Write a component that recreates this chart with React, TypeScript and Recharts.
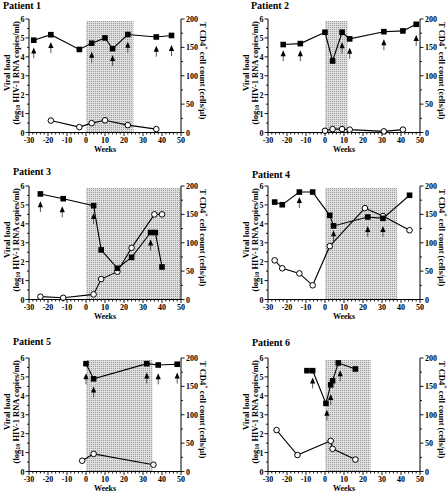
import React from "react";
import { ComposedChart, Line, Scatter, XAxis, YAxis, ReferenceArea, Label } from "recharts";

type Pt = [number, number];

// viral load (log10 copies/ml), CD4 (cells/µl), arrow tips (viral-load units), shaded weeks
const p1Viral: Pt[] = [[-27.5, 4.88], [-18.5, 5.17], [-3.5, 4.39], [3, 4.72], [10, 5.0], [14, 4.43], [22, 5.18], [37, 5.05], [45, 5.13]];
const p1Cd4: Pt[] = [[-18.5, 21], [-3.5, 9.5], [3, 16.5], [10, 21.5], [22, 13], [37, 6]];
const p1Arrows: Pt[] = [[-27.5, 4.5], [-18.5, 4.78], [3, 4.27], [14, 4.1], [22, 4.8], [37, 4.59], [45, 4.62]];
const p1Shade = 25;

const p2Viral: Pt[] = [[-22, 4.65], [-13, 4.7], [0, 5.3], [4, 3.78], [9, 5.3], [13, 4.95], [31, 5.33], [41, 5.37], [48, 5.72]];
const p2Cd4: Pt[] = [[0, 3], [4, 6], [9, 6], [13, 5], [31, 2], [41, 5]];
const p2Arrows: Pt[] = [[-22, 4.35], [-13, 4.35], [9, 4.77], [13, 4.48], [31, 4.93], [48, 5.16]];
const p2Shade = 12;

const p3Viral: Pt[] = [[-24, 5.58], [-12, 5.33], [4, 4.96], [8, 2.62], [16.5, 1.65], [24, 2.23], [34, 3.54], [36.5, 3.54], [40, 1.72]];
const p3Cd4: Pt[] = [[-24, 5], [-12, 3], [4, 9], [8, 36], [16.5, 49], [24, 91], [36, 150], [40, 150]];
const p3Arrows: Pt[] = [[-24, 5.2], [-12.5, 4.93], [4, 4.57], [34, 3.17]];
const p3Shade = 50;

const p4Viral: Pt[] = [[-26.5, 5.15], [-22.5, 5.01], [-13.5, 5.68], [-6.5, 5.68], [2.5, 4.45], [4.5, 3.89], [22.5, 4.36], [30.5, 4.29], [44.5, 5.51]];
const p4Cd4: Pt[] = [[-26.5, 69], [-22.5, 55], [-13.5, 46], [-6.5, 25], [2.5, 94], [21, 161], [30.5, 147], [44.5, 122]];
const p4Arrows: Pt[] = [[-13.5, 5.42], [4.5, 3.66], [22.5, 3.89], [30.5, 3.89]];
const p4Shade = 38;

const p5Viral: Pt[] = [[0, 5.7], [4, 4.9], [32, 5.7], [38, 5.63], [48, 5.67]];
const p5Cd4: Pt[] = [[-2, 19], [4, 31], [35.5, 12]];
const p5Arrows: Pt[] = [[0, 5.19], [4, 4.5], [32, 5.23], [38, 5.19], [48, 5.23]];
const p5Shade = 35;

const p6Viral: Pt[] = [[-9.5, 5.33], [-6.5, 5.33], [0.5, 3.6], [3, 4.58], [4, 4.8], [7, 5.74], [16, 5.42]];
const p6Cd4: Pt[] = [[-25.5, 73], [-14.5, 29], [3, 54], [4, 40], [16, 21]];
const p6Arrows: Pt[] = [[-6.5, 4.97], [1, 3.27], [3, 4.1], [8, 5.35]];
const p6Shade = 24;

const weekTicks = [-30, -20, -10, 0, 10, 20, 30, 40, 50];
const viralTicks = [0, 1, 2, 3, 4, 5, 6];
const cd4Ticks = [0, 50, 100, 150, 200];

// minor ticks
const xTicks = Array.from({ length: 41 }, (_, i) => -30 + i * 2);
const leftTicks = Array.from({ length: 13 }, (_, i) => i * 0.5);
const rightTicks = Array.from({ length: 9 }, (_, i) => i * 25);

const FONT = "'Liberation Serif', 'Times New Roman', serif";
const PW = 152;
const PH = 113.5;
const L = 32;
const R = 28;
const T = 22;
const B = 24;

const panels = [
    { title: "Patient 1", viral: p1Viral, cd4: p1Cd4, arrows: p1Arrows, shade: p1Shade, left: 29, top: 19, tdx: -26, tdy: -10 },
    { title: "Patient 2", viral: p2Viral, cd4: p2Cd4, arrows: p2Arrows, shade: p2Shade, left: 268, top: 19, tdx: -17, tdy: -10 },
    { title: "Patient 3", viral: p3Viral, cd4: p3Cd4, arrows: p3Arrows, shade: p3Shade, left: 29, top: 186, tdx: -16, tdy: -11 },
    { title: "Patient 4", viral: p4Viral, cd4: p4Cd4, arrows: p4Arrows, shade: p4Shade, left: 268, top: 186, tdx: -16, tdy: -8 },
    { title: "Patient 5", viral: p5Viral, cd4: p5Cd4, arrows: p5Arrows, shade: p5Shade, left: 29, top: 357.5, tdx: -16, tdy: -13.5 },
    { title: "Patient 6", viral: p6Viral, cd4: p6Cd4, arrows: p6Arrows, shade: p6Shade, left: 268, top: 357.5, tdx: -16, tdy: -12.5 },
];

const rows = (pts: Pt[]) => pts.map(([x, y]) => ({ x, y }));

const txt = { fontFamily: FONT, fontWeight: "bold" as const, fill: "#000" };

const XTick = (props: any) => {
    const { x, y, payload } = props;
    const major = weekTicks.includes(payload.value);
    return (
        <g>
            <line x1={x} x2={x} y1={y} y2={y + (major ? 3.5 : 2)} stroke="#000" strokeWidth={0.9} />
            {major && (
                <text x={x} y={y + 10} textAnchor="middle" fontSize={8} {...txt}>
                    {payload.value}
                </text>
            )}
        </g>
    );
};

const LeftTick = (props: any) => {
    const { x, y, payload } = props;
    const major = viralTicks.includes(payload.value);
    return (
        <g>
            <line x1={x} x2={x - (major ? 3.5 : 2)} y1={y} y2={y} stroke="#000" strokeWidth={0.9} />
            {major && (
                <text x={x - 4.5} y={y + 3} textAnchor="end" fontSize={8} {...txt}>
                    {payload.value}
                </text>
            )}
        </g>
    );
};

const RightTick = (props: any) => {
    const { x, y, payload } = props;
    const major = cd4Ticks.includes(payload.value);
    return (
        <g>
            <line x1={x} x2={x + (major ? 3.5 : 2)} y1={y} y2={y} stroke="#000" strokeWidth={0.9} />
            {major && (
                <text x={x + 5} y={y + 3} textAnchor="start" fontSize={8} {...txt}>
                    {payload.value}
                </text>
            )}
        </g>
    );
};

const Square = (props: any) => {
    const { cx, cy, index } = props;
    if (cx == null || cy == null) return <g key={index} />;
    return <rect key={index} x={cx - 2.8} y={cy - 2.8} width={5.6} height={5.6} fill="#000" />;
};

const Arrow = (props: any) => {
    const { cx, cy } = props;
    return (
        <g>
            <line x1={cx} x2={cx} y1={cy + 5} y2={cy + 11} stroke="#444" strokeWidth={0.9} />
            <polygon points={`${cx},${cy} ${cx - 2.6},${cy + 6} ${cx + 2.6},${cy + 6}`} fill="#000" />
        </g>
    );
};

const axisLine = { stroke: "#000", strokeWidth: 1 };

function Panel({ p, i }: { p: (typeof panels)[number]; i: number }) {
    const cy = T + PH / 2;
    const id = `dots-${i}`;
    return (
        <div style={{ position: "absolute", left: p.left - L, top: p.top - T }}>
            <ComposedChart width={L + PW + R} height={T + PH + B} margin={{ top: T, right: 0, bottom: 0, left: 0 }}>
                <defs>
                    <pattern id={id} width={2} height={2} patternUnits="userSpaceOnUse">
                        <rect width={2} height={2} fill="#dedede" />
                        <rect width={1} height={1} fill="#9c9c9c" />
                    </pattern>
                </defs>
                <XAxis
                    type="number"
                    dataKey="x"
                    domain={[-30, 50]}
                    ticks={xTicks}
                    interval={0}
                    tickSize={0}
                    tickMargin={0}
                    tick={XTick}
                    height={B}
                    allowDataOverflow
                    axisLine={axisLine}
                >
                    <Label
                        content={() => (
                            <text x={L + PW / 2} y={T + PH + 19.5} textAnchor="middle" fontSize={8} {...txt}>
                                Weeks
                            </text>
                        )}
                    />
                </XAxis>
                <YAxis
                    yAxisId="left"
                    orientation="left"
                    domain={[0, 6]}
                    ticks={leftTicks}
                    interval={0}
                    tickSize={0}
                    tickMargin={0}
                    tick={LeftTick}
                    width={L}
                    axisLine={axisLine}
                >
                    <Label
                        content={() => (
                            <g>
                                <text x={L + p.tdx} y={T + p.tdy} fontSize={10} {...txt}>
                                    {p.title}
                                </text>
                                <text
                                    transform={`translate(${L - 22},${cy - 3}) rotate(-90)`}
                                    textAnchor="middle"
                                    dominantBaseline="central"
                                    fontSize={8.5}
                                    {...txt}
                                >
                                    Viral load
                                </text>
                                <text
                                    transform={`translate(${L - 13.5},${cy - 3}) rotate(-90)`}
                                    textAnchor="middle"
                                    dominantBaseline="central"
                                    fontSize={8.5}
                                    {...txt}
                                >
                                    (log
                                    <tspan fontSize={6} dy={2}>
                                        10
                                    </tspan>
                                    <tspan dy={-2}> HIV-1 RNA copies/ml)</tspan>
                                </text>
                            </g>
                        )}
                    />
                </YAxis>
                <YAxis
                    yAxisId="right"
                    orientation="right"
                    domain={[0, 200]}
                    ticks={rightTicks}
                    interval={0}
                    tickSize={0}
                    tickMargin={0}
                    tick={RightTick}
                    width={R}
                    axisLine={axisLine}
                >
                    <Label
                        content={() => (
                            <text
                                transform={`translate(${L + PW + 22},${cy - 5}) rotate(90)`}
                                textAnchor="middle"
                                dominantBaseline="central"
                                fontSize={8.5}
                                {...txt}
                            >
                                T CD4
                                <tspan fontSize={6} dy={-3}>
                                    +
                                </tspan>
                                <tspan dy={3}> cell count (cells/µl)</tspan>
                            </text>
                        )}
                    />
                </YAxis>
                <ReferenceArea yAxisId="left" x1={0} x2={p.shade} y1={0} y2={5.9} fill={`url(#${id})`} fillOpacity={1} stroke="none" />
                <Line
                    yAxisId="right"
                    data={rows(p.cd4)}
                    dataKey="y"
                    stroke="#000"
                    strokeWidth={1.1}
                    dot={{ r: 2.8, fill: "#fff", stroke: "#000", strokeWidth: 1 }}
                    activeDot={false}
                    isAnimationActive={false}
                />
                <Line
                    yAxisId="left"
                    data={rows(p.viral)}
                    dataKey="y"
                    stroke="#000"
                    strokeWidth={1.1}
                    dot={Square}
                    activeDot={false}
                    isAnimationActive={false}
                />
                <Scatter yAxisId="left" data={rows(p.arrows)} dataKey="y" shape={Arrow} isAnimationActive={false} />
            </ComposedChart>
        </div>
    );
}

export default function App() {
    return (
        <div style={{ position: "absolute", left: 0, top: 0, width: 448, height: 491, background: "#fff", overflow: "hidden" }}>
            {panels.map((p, i) => (
                <Panel key={p.title} p={p} i={i} />
            ))}
        </div>
    );
}
